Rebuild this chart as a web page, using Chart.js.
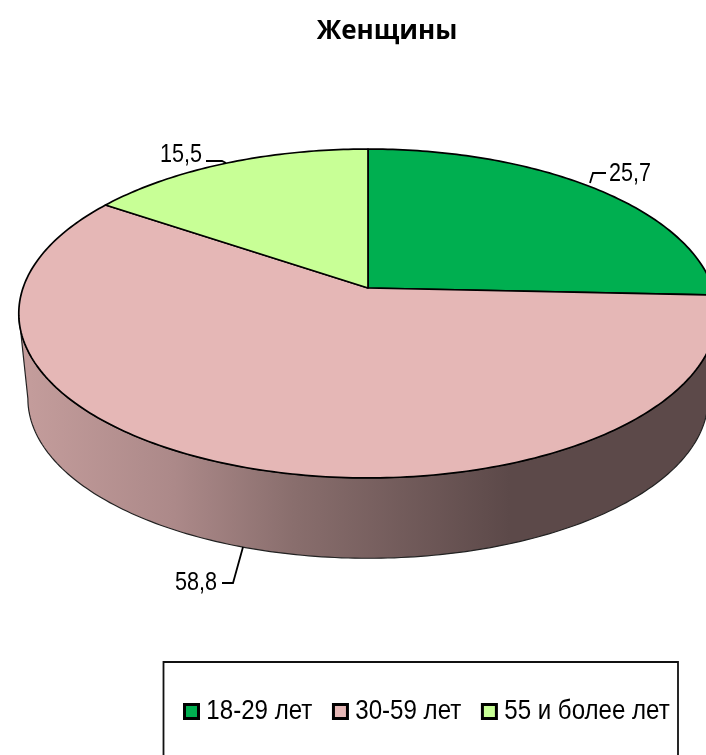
<!DOCTYPE html>
<html>
<head>
<meta charset="utf-8">
<title>Женщины</title>
<script src="https://cdn.jsdelivr.net/npm/chart.js@4/dist/chart.umd.min.js"></script>
<style>
  html, body { margin: 0; padding: 0; background: #fff; overflow: hidden; }
  canvas { display: block; }
</style>
</head>
<body>
<canvas id="myChart" width="706" height="755"></canvas>
<script>
'use strict';

var chartTitle = 'Женщины';
var categories = ['18-29 лет', '30-59 лет', '55 и более лет'];
var values = [25.7, 58.8, 15.5];
var colors = ['#00AF50', '#E5B7B6', '#C8FF96'];

// top disc and bottom disc of the cake, drawn with a simple perspective
var K = -0.155;
var topDisc = { cx: 368, cy: 288, a: 345, b: 160.5 };
var bottomDisc = { cx: 368, cy: 374, a: 336, b: 155.7 };
var wallFrom = Math.asin(-K);
var wallTo = Math.PI - wallFrom;

// the original text is tall and narrow, legend gets squeezed sideways
var legendSqueeze = 0.86;

function project(disc, angle) {
  var w = 1 + K * Math.sin(angle);
  return {
    x: disc.cx + disc.a * Math.cos(angle) / w,
    y: disc.cy + disc.b * Math.sin(angle) / w
  };
}

function shade(hex, f) {
  var n = parseInt(hex.slice(1), 16);
  var r = Math.round((n >> 16 & 255) * f);
  var g = Math.round((n >> 8 & 255) * f);
  var b = Math.round((n & 255) * f);
  return 'rgb(' + r + ',' + g + ',' + b + ')';
}

function traceArc(ctx, disc, from, to) {
  var steps = Math.max(2, Math.ceil(Math.abs(to - from) * 60));
  for (var i = 0; i <= steps; i++) {
    var p = project(disc, from + (to - from) * i / steps);
    ctx.lineTo(p.x, p.y);
  }
}

var cakePlugin = {
  id: 'cake',
  beforeDatasetsDraw: function(chart) {
    var ctx = chart.ctx;
    var arcs = chart.getDatasetMeta(0).data;

    ctx.save();
    ctx.lineJoin = 'round';

    // side wall, only the part facing the viewer
    arcs.forEach(function(arc, i) {
      var from = Math.max(arc.startAngle, wallFrom);
      var to = Math.min(arc.endAngle, wallTo);
      if (to <= from) return;
      var grad = ctx.createLinearGradient(30, 0, 510, 0);
      grad.addColorStop(0, shade(colors[i], 0.85));
      grad.addColorStop(0.3, shade(colors[i], 0.75));
      grad.addColorStop(0.55, shade(colors[i], 0.6));
      grad.addColorStop(1, shade(colors[i], 0.4));
      ctx.beginPath();
      traceArc(ctx, topDisc, from, to);
      traceArc(ctx, bottomDisc, to, from);
      ctx.closePath();
      ctx.fillStyle = grad;
      ctx.fill();
      ctx.strokeStyle = '#222';
      ctx.lineWidth = 1.2;
      ctx.stroke();
    });

    // top face
    arcs.forEach(function(arc, i) {
      ctx.beginPath();
      ctx.moveTo(topDisc.cx, topDisc.cy);
      traceArc(ctx, topDisc, arc.startAngle, arc.endAngle);
      ctx.closePath();
      ctx.fillStyle = colors[i];
      ctx.fill();
      ctx.strokeStyle = '#000';
      ctx.lineWidth = 1.7;
      ctx.stroke();
    });

    ctx.restore();
    return false;
  },
  afterLayout: function(chart) {
    var title = chart.titleBlock;
    title.left = 287;
    title.right = 487;
    title.top = 12;
    title.bottom = 52;
    var legend = chart.legend;
    var pad = legend.options.labels.padding;
    legend.left = 184 / legendSqueeze - pad;
    legend.right = 2000;
    legend.top = 711 - 14 - pad;
    legend.bottom = 745;
    if (!legend.squeezed) {
      var draw = legend.draw;
      legend.draw = function() {
        chart.ctx.save();
        chart.ctx.scale(legendSqueeze, 1);
        draw.apply(legend, arguments);
        chart.ctx.restore();
      };
      legend.squeezed = true;
    }
  },
  afterDraw: function(chart) {
    var ctx = chart.ctx;
    ctx.save();

    // frame around the legend, runs off the bottom edge of the page
    ctx.strokeStyle = '#111';
    ctx.lineWidth = 1.8;
    ctx.beginPath();
    ctx.moveTo(163.5, 756);
    ctx.lineTo(163.5, 662);
    ctx.lineTo(678, 662);
    ctx.lineTo(678, 756);
    ctx.stroke();

    // legend swatches, larger than the gap chart.js leaves before the text
    chart.legend.legendHitBoxes.forEach(function(box, i) {
      var left = box.left * legendSqueeze + 0.5;
      ctx.fillStyle = colors[i];
      ctx.strokeStyle = '#000';
      ctx.lineWidth = 3;
      ctx.fillRect(left, 704.5, 14, 14);
      ctx.strokeRect(left, 704.5, 14, 14);
    });

    // value labels with leader lines
    var leaders = [
      { x: 609, y: 181, line: [[590, 183], [593, 173], [606, 173]] },
      { x: 175, y: 590, line: [[243, 547], [233, 583], [222, 583]] },
      { x: 160, y: 162, line: [[206, 161], [222, 161], [226, 163]] }
    ];
    ctx.font = '26px "Liberation Sans"';
    ctx.fillStyle = '#000';
    ctx.strokeStyle = '#000';
    ctx.textBaseline = 'alphabetic';
    leaders.forEach(function(l, i) {
      ctx.fillText(String(values[i]).replace('.', ','), l.x, l.y, 42);
      ctx.beginPath();
      l.line.forEach(function(p, j) {
        if (j === 0) ctx.moveTo(p[0], p[1]); else ctx.lineTo(p[0], p[1]);
      });
      ctx.lineWidth = 1.8;
      ctx.stroke();
    });
    ctx.restore();
  }
};

new Chart(document.getElementById('myChart'), {
  type: 'pie',
  data: {
    labels: categories,
    datasets: [{
      data: values,
      backgroundColor: colors,
      borderColor: '#000',
      borderWidth: 0
    }]
  },
  options: {
    responsive: false,
    animation: false,
    plugins: {
      title: {
        display: true,
        text: chartTitle,
        color: '#000',
        font: { family: '"Open Sans"', size: 26, weight: 'bold' },
        padding: { top: 4, bottom: 4 }
      },
      legend: {
        display: true,
        position: 'bottom',
        align: 'start',
        labels: {
          color: '#000',
          font: { family: '"Liberation Sans"', size: 28 },
          boxWidth: 12,
          boxHeight: 8,
          padding: 24
        }
      },
      tooltip: { enabled: false }
    }
  },
  plugins: [cakePlugin]
});
</script>
</body>
</html>
